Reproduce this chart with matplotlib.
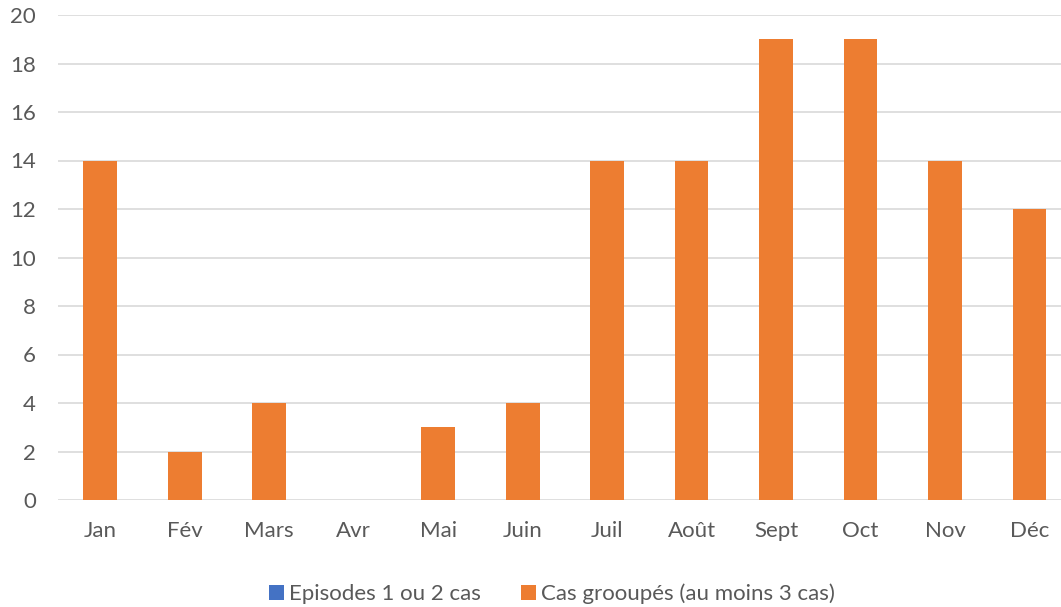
import matplotlib.pyplot as plt
import numpy as np

# Données
mois = ["Jan", "Fév", "Mars", "Avr", "Mai", "Juin", "Juil", "Août", "Sept", "Oct", "Nov", "Déc"]
episodes_1_2 = [0, 0, 0, 0, 0, 0, 0, 0, 0, 0, 0, 0]
cas_groupes = [14, 2, 4, 0, 3, 4, 14, 14, 19, 19, 14, 12]

plt.rcParams['font.family'] = ['Lato', 'DejaVu Sans']
gris = "#595959"

fig = plt.figure(figsize=(10.61, 6.07), dpi=100)
ax = fig.add_axes([58 / 1061, 1 - 500 / 607, 1 - 58 / 1061, 485 / 607])

x = np.arange(len(mois))
ax.bar(x, episodes_1_2, width=0.4, color="#4472c4", label="Episodes 1 ou 2 cas", zorder=3)
ax.bar(x, cas_groupes, width=0.4, bottom=episodes_1_2, color="#ed7d31",
       label="Cas grooupés (au moins 3 cas)", zorder=3)

ax.set_xlim(-0.5, (1061 - 100) / 84.5)
ax.set_ylim(0, 20)
ax.set_yticks(range(0, 21, 2))
ax.set_xticks(x)
ax.set_xticklabels(mois)
ax.yaxis.grid(True, color="#d9d9d9", linewidth=1.2, zorder=0)
ax.tick_params(axis='both', length=0, labelsize=16, colors=gris)
ax.tick_params(axis='x', pad=15)
ax.tick_params(axis='y', pad=16)
for s in ax.spines.values():
    s.set_visible(False)

leg = fig.legend(loc='center', bbox_to_anchor=(0.52, 1 - 594 / 607), ncol=2, frameon=False,
                 fontsize=16, handlelength=0.7, handleheight=0.7, handletextpad=0.2, columnspacing=1.8)
for t in leg.get_texts():
    t.set_color(gris)

plt.savefig("out.png", dpi=100)
